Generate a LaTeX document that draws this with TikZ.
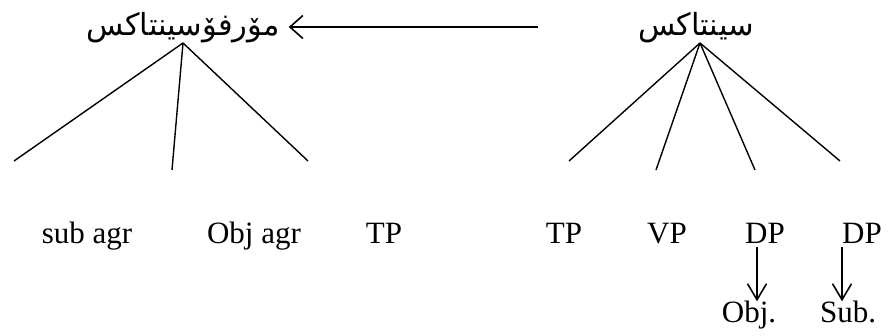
\documentclass[tikz,border=0pt]{standalone}
\usepackage{fontspec}
\setmainfont{Liberation Serif}
\newfontfamily\arabicfont[Script=Arabic]{DejaVu Sans}
\TeXXeTstate=1
\usepackage{tikz}
\usetikzlibrary{arrows.meta, positioning}
\tikzset{
  treeroot/.style={
    inner sep=0pt,
    anchor=south,
    font=\arabicfont\fontsize{30.5}{34}\selectfont
  },
  treelabel/.style={
    inner sep=0pt,
    anchor=base,
    font=\fontsize{31}{36}\selectfont
  },
  treeline/.style={line width=1.4pt, draw=black},
  treearrow/.style={-{Straight Barb[length=13pt, width=23pt]}, line width=1.6pt, draw=black},
  leafarrow/.style={-{Straight Barb[length=16pt, width=19pt]}, line width=1.6pt, draw=black}
}

\begin{document}
\begin{tikzpicture}[x=1pt, y=-1pt]
  \useasboundingbox (0,0) rectangle (888,336);

  \node[treeroot] (morph) at (183,43) {\beginR مۆرفۆسينتاكس\endR};
  \node[treeroot] (syn) at (696,43) {\beginR سينتاكس\endR};

  \node[treelabel] (subagr) at (87,244) {sub agr};
  \node[treelabel] (objagr) at (254,244) {Obj agr};
  \node[treelabel] (tpleft) at (384,244) {TP};
  \node[treelabel] (tpright) at (564,244) {TP};
  \node[treelabel] (vp) at (667,244) {VP};
  \node[treelabel] (dpobj) at (765,244) {DP};
  \node[treelabel] (dpsub) at (862,244) {DP};
  \node[treelabel] (obj) at (749,323) {Obj.};
  \node[treelabel] (sub) at (848,323) {Sub.};

  \coordinate (arrowstart) at (538,27);
  \coordinate (mleft) at (14,161);
  \coordinate (mmid) at (172,170);
  \coordinate (mright) at (308,161);
  \coordinate (sone) at (569,161);
  \coordinate (stwo) at (656,170);
  \coordinate (sthree) at (755,170);
  \coordinate (sfour) at (840,161);

  \draw[treearrow] (arrowstart) -- ([xshift=9pt]morph.east |- arrowstart);
  \draw[treeline] (morph.south) -- (mleft);
  \draw[treeline] (morph.south) -- (mmid);
  \draw[treeline] (morph.south) -- (mright);
  \draw[treeline] ([xshift=4pt]syn.south) -- (sone);
  \draw[treeline] ([xshift=4pt]syn.south) -- (stwo);
  \draw[treeline] ([xshift=4pt]syn.south) -- (sthree);
  \draw[treeline] ([xshift=4pt]syn.south) -- (sfour);
  \draw[leafarrow] ([xshift=-8pt,yshift=-3pt]dpobj.south) -- ([xshift=-8pt]dpobj.south |- obj.north);
  \draw[leafarrow] ([xshift=-20pt,yshift=-3pt]dpsub.south) -- ([xshift=-20pt]dpsub.south |- sub.north);
\end{tikzpicture}
\end{document}
